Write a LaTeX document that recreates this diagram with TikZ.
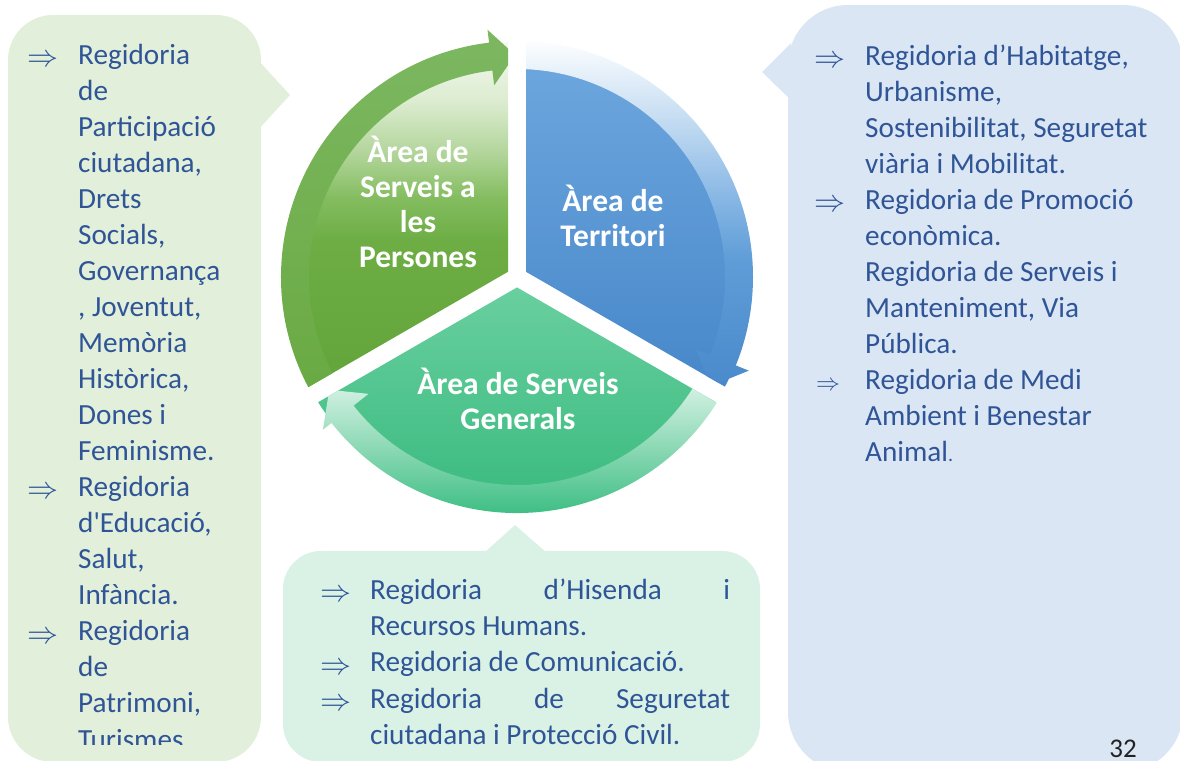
\documentclass[tikz,border=0pt]{standalone}
\usepackage{fontspec}
\setmainfont{Carlito}
\usetikzlibrary{calc}
\definecolor{txtblue}{HTML}{2F5597}
\definecolor{boxgreen}{HTML}{E2EFDA}
\definecolor{boxmint}{HTML}{DAF2E6}
\definecolor{boxblue}{HTML}{DAE6F4}
\definecolor{gA}{HTML}{F4F9F0}
\definecolor{g4}{HTML}{DCECD0}
\definecolor{g3}{HTML}{B2D59B}
\definecolor{g2}{HTML}{84BD60}
\definecolor{gB}{HTML}{6DAD44}
\definecolor{gC}{HTML}{61A339}
\definecolor{gBandTop}{HTML}{7DB862}
\definecolor{gBandBot}{HTML}{66A73D}
\definecolor{bA}{HTML}{6FA8DF}
\definecolor{bC}{HTML}{4485C8}
\definecolor{b4}{HTML}{C4DCF2}
\definecolor{b3}{HTML}{86B6E4}
\definecolor{b2}{HTML}{5E9DD7}
\definecolor{b1}{HTML}{4A89CB}
\definecolor{tA}{HTML}{6BD0A0}
\definecolor{tC}{HTML}{38BA7E}
\definecolor{tBandTop}{HTML}{F2FBF6}
\definecolor{tBandMid}{HTML}{90DDB8}
\definecolor{tBandBot}{HTML}{3DBE83}
\definecolor{pagenum}{HTML}{222222}
\pgfdeclareverticalshading{greenbody}{100bp}{color(0bp)=(gC); color(25bp)=(gC); color(48bp)=(gB); color(54bp)=(g2); color(60bp)=(g3); color(67bp)=(g4); color(75bp)=(gA); color(100bp)=(gA)}
\pgfdeclareverticalshading{blueband}{100bp}{color(0bp)=(b1); color(25bp)=(b1); color(43.5bp)=(b2); color(52bp)=(b3); color(63.4bp)=(b4); color(75bp)=(white); color(100bp)=(white)}
\begin{document}
\begin{tikzpicture}[x=1pt,y=1pt,
  txt/.style={text=txtblue,font=\fontsize{29.2}{35}\selectfont,inner sep=0pt,anchor=base west},
  arr/.style={text=txtblue,inner sep=0pt,anchor=base west},
  lab/.style={text=white,font=\fontsize{31.5}{35}\selectfont\bfseries,inner sep=0pt,anchor=base}]
\newcommand{\bigarr}{\resizebox{31pt}{!}{$\Rightarrow$}}
\newcommand{\smallarr}{\resizebox{24pt}{!}{$\Rightarrow$}}
\clip (0,0) rectangle (1180,760);
% ---------- callout boxes ----------
\fill[boxgreen,rounded corners=45pt] (8,-2) rectangle (261,745);
\fill[boxgreen] (258,700) -- (290,665) -- (258,630) -- cycle;
\fill[boxmint,rounded corners=38pt] (283,-2) rectangle (760,209);
\fill[boxmint] (484,207) -- (515,235) -- (547,207) -- cycle;
\fill[boxblue,rounded corners=60pt] (788,-12) rectangle (1183,755);
\fill[boxblue] (791,717) -- (762,688) -- (791,660) -- cycle;
% ---------- cycle ----------
\coordinate (C) at (517,483);
\coordinate (Ag) at ($(C)+(150:10.4pt)$);
\coordinate (Ab) at ($(C)+(30:10.4pt)$);
\coordinate (At) at ($(C)+(270:10.4pt)$);
% green segment
\begin{scope}
\clip (Ag) -- ($(Ag)+(90:400pt)$) -- ($(Ag)+(150:800pt)$) -- ($(Ag)+(210:400pt)$) -- cycle;
\begin{scope}
\clip (C) circle (235pt);
\shade[shading=greenbody] (270,348) rectangle (520,718);
\end{scope}
\begin{scope}
\clip ($(C)+(215:236pt)$) arc[start angle=215,end angle=96.8,radius=236pt]
  -- ($(C)+(96.8:249pt)$) -- ($(C)+(90.5:222pt)$) -- ($(C)+(96.8:193pt)$)
  -- ($(C)+(96.8:208pt)$) arc[start angle=96.8,end angle=215,radius=208pt] -- cycle;
\shade[top color=gBandTop,bottom color=gBandBot] (270,300) rectangle (520,740);
\end{scope}
\end{scope}
% blue segment
\begin{scope}
\clip (Ab) -- ($(Ab)+(90:400pt)$) -- ($(Ab)+(30:800pt)$) -- ($(Ab)+(-30:400pt)$) -- cycle;
\begin{scope}
\clip (C) circle (235pt);
\shade[top color=bA,bottom color=bC] (515,348) rectangle (760,718);
\end{scope}
\begin{scope}
\clip ($(C)+(95:236pt)$) arc[start angle=95,end angle=-22,radius=236pt]
  -- ($(C)+(-22:250pt)$) -- ($(C)+(-29.5:222pt)$) -- ($(C)+(-22:193pt)$)
  -- ($(C)+(-22:208pt)$) arc[start angle=-22,end angle=95,radius=208pt] -- cycle;
\shade[shading=blueband] (515,370) rectangle (770,722);
\end{scope}
\end{scope}
% teal segment
\begin{scope}
\clip (At) -- ($(At)+(-30:400pt)$) -- ($(At)+(-90:800pt)$) -- ($(At)+(-150:400pt)$) -- cycle;
\begin{scope}
\clip (C) circle (235pt);
\shade[top color=tA,bottom color=tC] (270,245) rectangle (770,483);
\end{scope}
\begin{scope}
\clip ($(C)+(-25:236pt)$) arc[start angle=-25,end angle=-141.8,radius=236pt]
  -- ($(C)+(-141.8:247pt)$) -- ($(C)+(-149:219pt)$) -- ($(C)+(-141.8:189pt)$)
  -- ($(C)+(-141.8:208pt)$) arc[start angle=-141.8,end angle=-25,radius=208pt] -- cycle;
\shade[top color=tBandTop,middle color=tBandMid,bottom color=tBandBot] (270,245) rectangle (770,400);
\end{scope}
\end{scope}
% labels
\node[lab] (g1) at (418,597) {Àrea de};
\node[lab] (g2) at (418,562) {Serveis a};
\node[lab] (g3) at (418,527) {les};
\node[lab] (g4) at (418,492) {Persones};
\node[lab] (b1) at (613,548) {Àrea de};
\node[lab] (b2) at (613,513) {Territori};
\node[lab] (t1) at (518,365) {Àrea de Serveis};
\node[lab] (t2) at (518,330) {Generals};
% ---------- left box text ----------
\begin{scope}
\clip (0,16) rectangle (261,760);
\foreach \t [count=\i] in {Regidoria,de,Participació,{ciutadana,},Drets,{Socials,},Governança,{, Joventut,},Memòria,{Històrica,},Dones i,Feminisme.,Regidoria,{d\textquotesingle Educació,},{Salut,},Infància.,Regidoria,de,{Patrimoni,},Turismes.}
  \node[txt] (L\i) at (78,{695-36*(\i-1)}) {\t};
\end{scope}
\node[arr] (LA1) at (27,693) {\bigarr};
\node[arr] (LA2) at (27,261) {\bigarr};
\node[arr] (LA3) at (27,117) {\bigarr};
% ---------- right box text ----------
\foreach \t [count=\i] in {{Regidoria d’Habitatge,},{Urbanisme,},{Sostenibilitat, Seguretat},viària i Mobilitat.,Regidoria de Promoció,econòmica.,Regidoria de Serveis i,{Manteniment, Via},Pública.,Regidoria de Medi,Ambient i Benestar,Animal{\fontsize{20}{24}\selectfont.}}
  \node[txt] (R\i) at (865,{694-36*(\i-1)}) {\t};
\node[arr] (RA1) at (814,692) {\bigarr};
\node[arr] (RA2) at (814,548) {\bigarr};
\node[arr] (RA3) at (816,369) {\smallarr};
% ---------- bottom box text ----------
\node[txt] (B1) at (370,160) {\makebox[360pt][s]{Regidoria d’Hisenda i}};
\node[txt] (B2) at (370,124) {Recursos Humans.};
\node[txt] (B3) at (370,88) {Regidoria de Comunicació.};
\node[txt] (B4) at (370,52) {\makebox[360pt][s]{Regidoria de Seguretat}};
\node[txt] (B5) at (370,16) {ciutadana i Protecció Civil.};
\node[arr] (BA1) at (320,158) {\bigarr};
\node[arr] (BA2) at (320,86) {\bigarr};
\node[arr] (BA3) at (320,50) {\bigarr};
% page number
\node[text=pagenum,font=\fontsize{27}{30}\selectfont,inner sep=0pt,anchor=base] (pg) at (1123,2) {32};
\end{tikzpicture}
\end{document}
